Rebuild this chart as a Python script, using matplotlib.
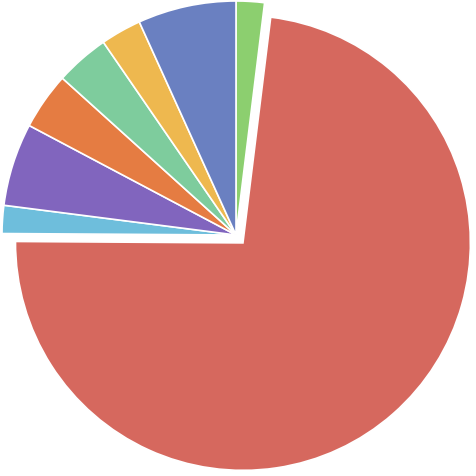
import matplotlib
matplotlib.use('Agg')
import matplotlib.pyplot as plt

# slice sizes (percent, clockwise from 12 o'clock)
labels = ['Green', 'Red', 'Light blue', 'Purple', 'Orange', 'Teal', 'Yellow', 'Blue']
values = [1.95, 73.15, 1.93, 5.72, 3.94, 3.72, 2.81, 6.78]
colors = ['#8ccf6f', '#d6685e', '#6ebedc', '#8165be', '#e57c42', '#7ecc9d', '#eeb84f', '#6a80c1']
explode = [0, 0.045, 0, 0, 0, 0, 0, 0]

fig = plt.figure(figsize=(4.76, 4.76), dpi=100)
ax = fig.add_axes([0, 0, 1, 1])

wedges, _ = ax.pie(values, colors=colors, explode=explode, startangle=90, counterclock=False,
                   wedgeprops={'edgecolor': 'white', 'linewidth': 1.2})
# the pulled-out red slice is drawn a little smaller than the rest
wedges[1].set_radius(0.972)

# pie centre sits at about (236, 235) px, radius ~234 px
s = 234.0
ax.set_xlim(-236 / s, (476 - 236) / s)
ax.set_ylim(-(476 - 235) / s, 235 / s)
ax.set_aspect('equal')
ax.axis('off')

fig.savefig('out.png', dpi=100)
